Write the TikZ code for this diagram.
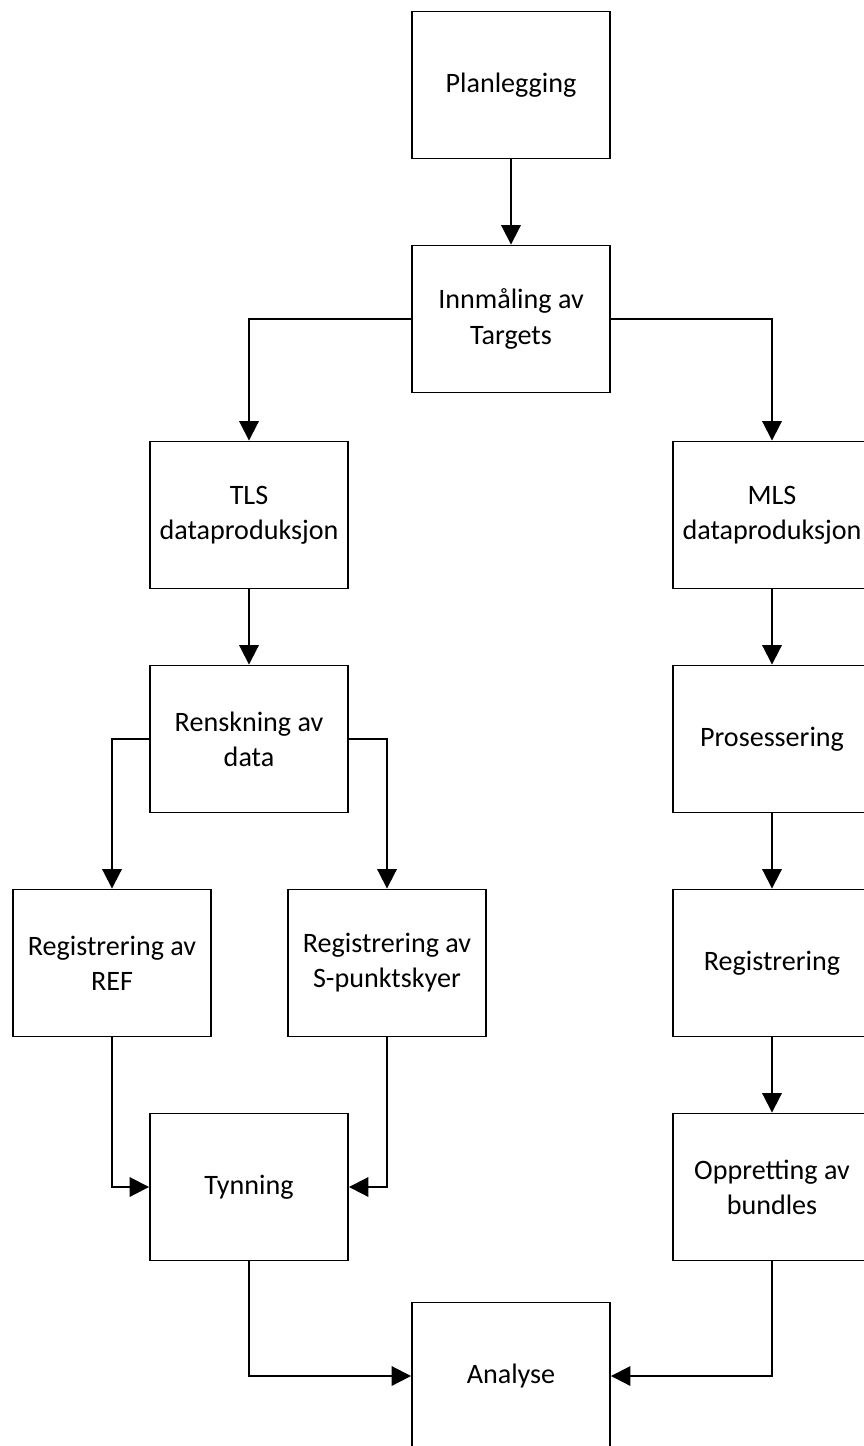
\documentclass[tikz,border=0pt]{standalone}
\usepackage{fontspec}
\setmainfont{Carlito}
\usetikzlibrary{arrows.meta}

\begin{document}
\begin{tikzpicture}[x=0.02cm,y=-0.02cm,
	step box/.style={draw,line width=1.1pt,minimum width=3.96cm,minimum height=2.94cm,
		align=center,font=\fontsize{16}{20}\selectfont,inner sep=2pt},
	flow/.style={line width=1.1pt,-{Triangle[length=11pt,width=11pt]}}]
	\useasboundingbox (0,0) rectangle (864,1446);
	% main line
	\node[step box] (plan) at (511,85) {Planlegging};
	\node[step box] (innm) at (511,319) {Innmåling av\\Targets};
	% TLS branch
	\node[step box] (tls) at (249,515) {TLS\\dataproduksjon};
	\node[step box] (rens) at (249,739) {Renskning av\\data};
	\node[step box] (ref) at (112,963) {Registrering av\\REF};
	\node[step box] (spkt) at (387,963) {Registrering av\\S-punktskyer};
	\node[step box] (tyn) at (249,1187) {Tynning};
	% MLS branch
	\node[step box] (mls) at (772,515) {MLS\\dataproduksjon};
	\node[step box] (pros) at (772,739) {Prosessering};
	\node[step box] (reg) at (772,963) {Registrering};
	\node[step box] (bundl) at (772,1187) {Oppretting av\\bundles};
	\node[step box] (ana) at (511,1376) {Analyse};

	\draw[flow] (plan) -- (innm);
	\draw[flow] (innm.west) -| (tls.north);
	\draw[flow] (innm.east) -| (mls.north);
	\draw[flow] (tls) -- (rens);
	\draw[flow] (rens.west) -| (ref.north);
	\draw[flow] (rens.east) -| (spkt.north);
	\draw[flow] (ref.south) |- (tyn.west);
	\draw[flow] (spkt.south) |- (tyn.east);
	\draw[flow] (tyn.south) |- (ana.west);
	\draw[flow] (mls) -- (pros);
	\draw[flow] (pros) -- (reg);
	\draw[flow] (reg) -- (bundl);
	\draw[flow] (bundl.south) |- (ana.east);
\end{tikzpicture}
\end{document}
